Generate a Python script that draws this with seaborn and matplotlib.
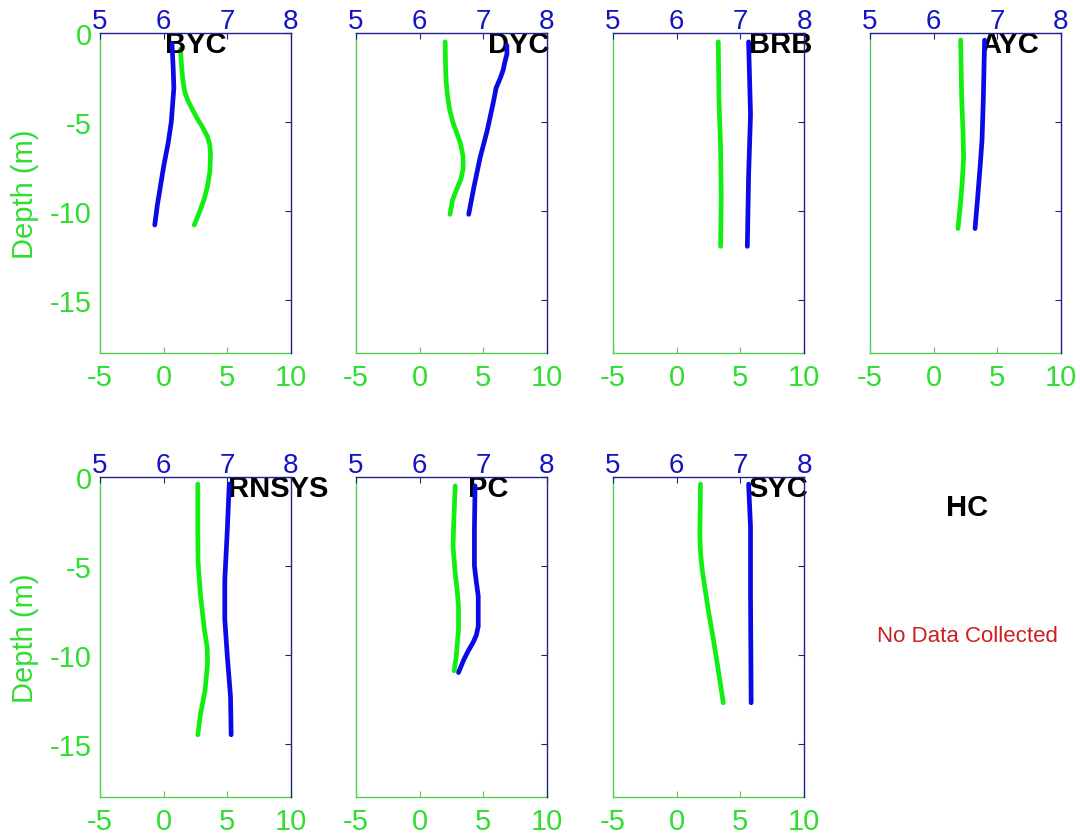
import matplotlib
matplotlib.use("Agg")
import matplotlib.pyplot as plt
import seaborn as sns
import numpy as np

sns.set_style("white")
plt.rcParams['font.family'] = ['Liberation Sans', 'DejaVu Sans']
plt.rcParams['axes.unicode_minus'] = False

# ---------------- data (depth in m, DO bottom axis, pH top axis) ----------------
sites = ["BYC", "DYC", "BRB", "AYC", "RNSYS", "PC", "SYC"]

byc_do_depth = [-0.9, -1.8, -2.6, -3.3, -3.8, -4.3, -4.8, -5.3, -5.8, -6.3, -6.8, -7.8, -8.6, -9.3, -10.1, -10.8]
byc_do       = [1.32, 1.40, 1.50, 1.65, 1.90, 2.25, 2.63, 3.05, 3.42, 3.62, 3.68, 3.63, 3.45, 3.20, 2.80, 2.40]
byc_ph_depth = [-0.6, -2.0, -3.1, -5.0, -6.2, -7.5, -8.6, -9.7, -10.8]
byc_ph       = [6.13, 6.15, 6.16, 6.12, 6.07, 6.00, 5.95, 5.90, 5.86]

dyc_do_depth = [-0.5, -1.8, -2.7, -3.5, -4.3, -5.0, -5.6, -6.2, -6.9, -7.6, -8.2, -8.8, -9.4, -10.2]
dyc_do       = [2.00, 2.03, 2.08, 2.18, 2.35, 2.60, 2.90, 3.20, 3.40, 3.42, 3.25, 2.90, 2.58, 2.38]
dyc_ph_depth = [-0.7, -1.2, -1.6, -2.1, -2.5, -3.1, -3.85, -5.5, -7.0, -8.7, -10.2]
dyc_ph       = [7.37, 7.37, 7.34, 7.31, 7.27, 7.20, 7.16, 7.06, 6.95, 6.85, 6.77]

brb_do_depth = [-0.5, -3.7, -6.5, -9.3, -12.0]
brb_do       = [3.27, 3.32, 3.45, 3.50, 3.45]
brb_ph_depth = [-0.5, -4.6, -8.0, -12.0]
brb_ph       = [7.13, 7.16, 7.13, 7.11]

ayc_do_depth = [-0.4, -3.7, -5.5, -7.0, -8.3, -9.5, -11.0]
ayc_do       = [2.12, 2.20, 2.30, 2.35, 2.25, 2.12, 1.91]
ayc_ph_depth = [-0.4, -3.7, -6.0, -7.5, -9.3, -11.0]
ayc_ph       = [6.80, 6.78, 6.76, 6.73, 6.69, 6.65]

rnsys_do_depth = [-0.4, -2.95, -4.8, -6.7, -8.6, -9.6, -10.5, -12.0, -13.3, -14.5]
rnsys_do       = [2.68, 2.68, 2.70, 2.90, 3.20, 3.42, 3.45, 3.25, 2.90, 2.68]
rnsys_ph_depth = [-0.4, -2.95, -5.8, -8.0, -10.1, -12.35, -14.5]
rnsys_ph       = [7.03, 7.00, 6.96, 6.96, 7.00, 7.05, 7.06]

pc_do_depth = [-0.5, -2.5, -3.9, -5.4, -6.4, -7.3, -8.6, -10.1, -10.9]
pc_do       = [2.79, 2.68, 2.62, 2.79, 2.95, 3.05, 3.05, 2.87, 2.71]
pc_ph_depth = [-0.5, -2.95, -5.0, -5.9, -6.7, -8.4, -8.9, -9.3, -9.8, -10.3, -11.0]
pc_ph       = [6.87, 6.86, 6.86, 6.89, 6.92, 6.92, 6.89, 6.84, 6.76, 6.69, 6.61]

syc_do_depth = [-0.4, -3.3, -4.3, -5.2, -6.4, -7.65, -9.0, -10.5, -11.7, -12.7]
syc_do       = [1.87, 1.82, 1.88, 2.00, 2.25, 2.52, 2.85, 3.19, 3.45, 3.66]
syc_ph_depth = [-0.4, -2.8, -6.7, -12.7]
syc_ph       = [7.13, 7.16, 7.16, 7.17]

do_ticks = [-5, 0, 5, 10]
ph_ticks = [5, 6, 7, 8]
depth_ticks = [-15, -10, -5, 0]

data = {
    "BYC": (byc_do_depth, byc_do, byc_ph_depth, byc_ph),
    "DYC": (dyc_do_depth, dyc_do, dyc_ph_depth, dyc_ph),
    "BRB": (brb_do_depth, brb_do, brb_ph_depth, brb_ph),
    "AYC": (ayc_do_depth, ayc_do, ayc_ph_depth, ayc_ph),
    "RNSYS": (rnsys_do_depth, rnsys_do, rnsys_ph_depth, rnsys_ph),
    "PC": (pc_do_depth, pc_do, pc_ph_depth, pc_ph),
    "SYC": (syc_do_depth, syc_do, syc_ph_depth, syc_ph),
}
# title x-position (axes fraction, left aligned)
title_x = {"BYC": 0.34, "DYC": 0.69, "BRB": 0.71, "AYC": 0.575,
           "RNSYS": 0.67, "PC": 0.585, "SYC": 0.71}

GREEN_LINE = "#12ee12"
GREEN_TXT = "#30dd30"
BLUE_LINE = "#0a0ae6"
BLUE_TXT = "#1515c0"
NAVY = "#20208a"
GREEN_SPINE = "#55cc55"

W, H = 1080, 837
fig = plt.figure(figsize=(W / 100, H / 100), dpi=100)

col_left = [100, 356, 613, 870]
ax_w = 191
row_top = [34, 478]
ax_h = 320

for i, site in enumerate(sites):
    r, c = divmod(i, 4)
    left = col_left[c] / W
    bottom = 1 - (row_top[r] + ax_h) / H
    ax = fig.add_axes([left, bottom, ax_w / W, ax_h / H])
    d_do, v_do, d_ph, v_ph = data[site]

    sns.lineplot(x=v_do, y=d_do, orient="y", sort=False, estimator=None,
                 color=GREEN_LINE, lw=3.4, ax=ax)
    ax.set_xlim(-5, 10)
    ax.set_ylim(-18, 0)
    ax.set_xticks(do_ticks)
    ax.set_yticks(depth_ticks)
    ax.tick_params(axis="x", direction="in", length=4, colors=GREEN_SPINE,
                   labelcolor=GREEN_TXT, labelsize=21, pad=7, top=False)
    ax.tick_params(axis="y", direction="in", length=4, colors=GREEN_SPINE,
                   labelcolor=GREEN_TXT, labelsize=21, pad=6, right=False)
    if c != 0:
        ax.tick_params(axis="y", labelleft=False)
    else:
        ax.set_ylabel("Depth (m)", color=GREEN_TXT, fontsize=21, labelpad=8)
    ax.set_xlabel("")
    for s in ["left", "bottom"]:
        ax.spines[s].set_color(GREEN_SPINE)
        ax.spines[s].set_linewidth(1.0)
    for s in ["top", "right"]:
        ax.spines[s].set_visible(False)

    ax2 = ax.twiny()
    sns.lineplot(x=v_ph, y=d_ph, orient="y", sort=False, estimator=None,
                 color=BLUE_LINE, lw=3.4, ax=ax2)
    ax2.set_xlim(5, 8)
    ax2.set_ylim(-18, 0)
    ax2.set_xticks(ph_ticks)
    ax2.set_xlabel("")
    ax2.set_ylabel("")
    ax2.tick_params(axis="x", direction="in", length=4, colors=NAVY,
                    labelcolor=BLUE_TXT, labelsize=20, pad=-0.5,
                    bottom=False, top=True, labeltop=True, labelbottom=False)
    ax2.yaxis.set_visible(True)
    ax2.set_yticks(depth_ticks)
    ax2.tick_params(axis="y", direction="in", length=4, colors=NAVY,
                    left=False, right=True, labelleft=False, labelright=False)
    for s in ["left", "bottom"]:
        ax2.spines[s].set_visible(False)
    for s in ["top", "right"]:
        ax2.spines[s].set_color(NAVY)
        ax2.spines[s].set_linewidth(1.0)

    ax2.text(title_x[site], 0.965, site, transform=ax2.transAxes,
             ha="left", va="center", fontsize=21, fontweight="bold",
             color="black", zorder=1)

fig.text(967 / W, 1 - 508 / H, "HC", ha="center", va="center",
         fontsize=21, fontweight="bold", color="black")
fig.text(967 / W, 1 - 637 / H, "No Data Collected", ha="center", va="center",
         fontsize=16, color="#cc1f1f")

fig.savefig("out.png", dpi=100, facecolor="white")
